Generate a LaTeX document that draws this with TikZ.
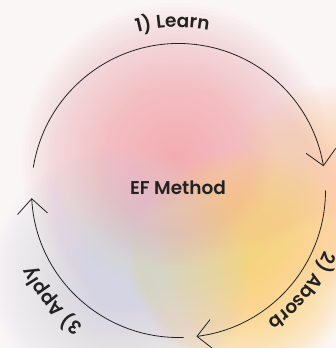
\documentclass[tikz,border=0pt]{standalone}
\usepackage{fontspec}
\setmainfont{Poppins}[UprightFont={* SemiBold}]
\usetikzlibrary{arrows.meta,decorations.text}
\definecolor{bgc}{RGB}{251,246,246}
\definecolor{pinkc}{RGB}{243,165,172}
\definecolor{yelc}{RGB}{255,212,120}
\definecolor{lavc}{RGB}{212,212,226}
\definecolor{peachc}{RGB}{252,205,160}
\definecolor{ink}{RGB}{34,34,34}
\newcommand\lblfont{\fontsize{18.5}{22}\selectfont\color{ink}}
\newcommand\myblob[4]{\foreach \i in {1,...,40}{\fill[#1, fill opacity=#4] (#2) circle ({#3*\i/40});}}
\begin{document}
\begin{tikzpicture}[x=1pt,y=1pt,
  ring/.style={draw=ink, line width=0.8pt, -{Straight Barb[length=15pt,width=30pt,line width=0.8pt]}},
  lbl/.style={decorate, decoration={text along path, text align=center, text={#1}}}]
\useasboundingbox (0,0) rectangle (336,348);
\fill[bgc] (0,0) rectangle (336,348);
\myblob{pinkc}{176,190}{155}{0.04}
\myblob{peachc}{330,160}{105}{0.035}
\myblob{yelc}{243,82}{115}{0.05}
\myblob{lavc}{120,70}{130}{0.035}
\coordinate (C) at (178.5,157.5);
\path (C) ++(171:147) coordinate (a1s);
\path (C) ++(0:147) coordinate (a2s);
\path (C) ++(-88:147) coordinate (a3s);
\draw[ring] (a1s) arc[start angle=171, end angle=9.5, radius=147];
\draw[ring] (a2s) arc[start angle=0, end angle=-83, radius=147];
\draw[ring] (a3s) arc[start angle=-88, end angle=-177, radius=147];
\node[font=\fontsize{18.5}{22}\selectfont, text=ink] (ef) at (178,160.5) {EF Method};
\path (C) ++(140:163) coordinate (t1s);
\path (C) ++(9:158) coordinate (t2s);
\path (C) ++(-91:165) coordinate (t3s);
\path[lbl={|\lblfont|1) Learn}] (t1s) arc[start angle=140, end angle=44, radius=163];
\path[lbl={|\lblfont|2) Absorb}] (t2s) arc[start angle=9, end angle=-87, radius=158];
\path[lbl={|\lblfont|3) Apply}] (t3s) arc[start angle=-91, end angle=-187, radius=165];
\end{tikzpicture}
\end{document}
